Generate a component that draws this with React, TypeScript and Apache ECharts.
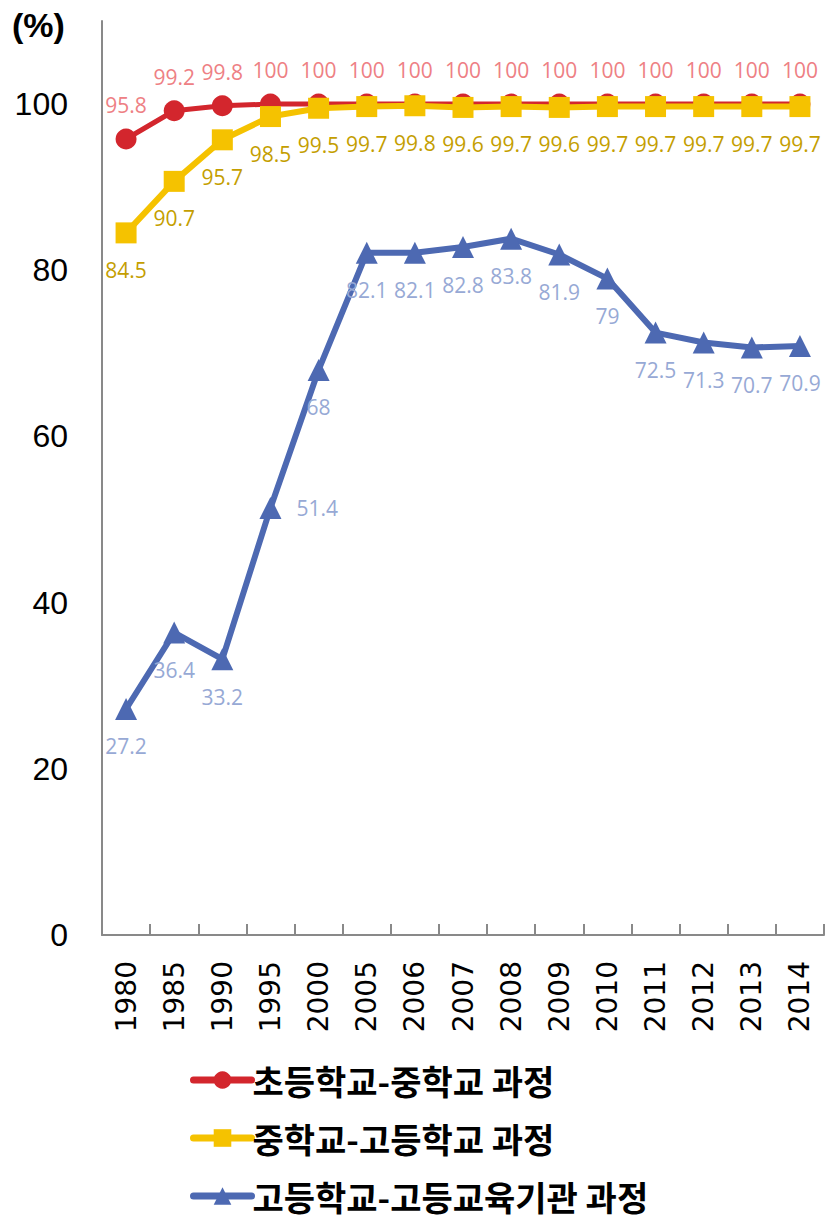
import React, { useEffect, useRef } from "react";
import * as echarts from "echarts";

const years = ["1980", "1985", "1990", "1995", "2000", "2005", "2006", "2007", "2008", "2009", "2010", "2011", "2012", "2013", "2014"];
const elemToMiddle = [95.8, 99.2, 99.8, 100, 100, 100, 100, 100, 100, 100, 100, 100, 100, 100, 100];
const middleToHigh = [84.5, 90.7, 95.7, 98.5, 99.5, 99.7, 99.8, 99.6, 99.7, 99.6, 99.7, 99.7, 99.7, 99.7, 99.7];
const highToTertiary = [27.2, 36.4, 33.2, 51.4, 68, 82.1, 82.1, 82.8, 83.8, 81.9, 79, 72.5, 71.3, 70.7, 70.9];
const seriesNames = ["초등학교-중학교 과정", "중학교-고등학교 과정", "고등학교-고등교육기관 과정"];
const yTicks = [0, 20, 40, 60, 80, 100];

export default function App() {
  const ref = useRef<HTMLDivElement>(null);
  useEffect(() => {
    document.body.style.margin = "0";
    const chart = echarts.init(ref.current!, null, { renderer: "svg" });
    const labelFont = { fontFamily: "Open Sans", fontSize: 21 };
    chart.setOption({
      animation: false,
      backgroundColor: "#ffffff",
      graphic: [
        {
          type: "text",
          left: 12,
          top: 8,
          style: { text: "(%)", font: "bold 34px 'Liberation Sans', Arial", fill: "#000" },
        },
      ],
      grid: { left: 102, right: 1, top: 21, bottom: 284, containLabel: false },
      legend: {
        orient: "vertical",
        left: 190,
        top: 1063,
        padding: 0,
        itemWidth: 58,
        itemHeight: 22,
        itemGap: 24,
        data: seriesNames,
        lineStyle: { width: 7, cap: "round" },
        textStyle: {
          fontFamily: "Noto Sans CJK KR",
          fontWeight: "bold",
          fontSize: 34,
          lineHeight: 34,
          color: "#000",
          padding: [0, 0, 0, -4],
        },
      },
      xAxis: {
        type: "category",
        data: years,
        boundaryGap: true,
        axisLine: { lineStyle: { color: "#898989", width: 2 } },
        axisTick: { show: true, inside: true, length: 11, lineStyle: { color: "#898989", width: 2 } },
        axisLabel: {
          rotate: 90,
          margin: 26,
          color: "#000",
          fontFamily: "DejaVu Sans",
          fontSize: 28,
        },
      },
      yAxis: {
        type: "value",
        min: 0,
        max: 110,
        interval: 20,
        splitLine: { show: false },
        axisLine: { show: true, lineStyle: { color: "#898989", width: 2 } },
        axisTick: { show: false },
        axisLabel: {
          margin: 34,
          color: "#000",
          fontFamily: "Liberation Sans",
          fontSize: 32,
          formatter: (v: number) => (yTicks.indexOf(v) >= 0 ? String(v) : ""),
        },
      },
      series: [
        {
          name: seriesNames[0],
          type: "line",
          data: elemToMiddle,
          symbol: "circle",
          symbolSize: 21,
          itemStyle: { color: "#D3262D" },
          lineStyle: { color: "#D3262D", width: 5 },
          label: { show: true, position: "top", distance: 13, color: "#EE8084", ...labelFont },
          z: 2,
        },
        {
          name: seriesNames[1],
          type: "line",
          data: middleToHigh,
          symbol: "rect",
          symbolSize: 21,
          itemStyle: { color: "#F5C200" },
          lineStyle: { color: "#F5C200", width: 6 },
          label: { show: true, position: "bottom", distance: 16, color: "#C49E00", ...labelFont },
          z: 3,
        },
        {
          name: seriesNames[2],
          type: "line",
          data: highToTertiary.map((v, i) =>
            i === 3 ? { value: v, label: { position: "right", distance: 15 } } : v
          ),
          symbol: "triangle",
          symbolSize: 22,
          itemStyle: { color: "#4D69B2" },
          lineStyle: { color: "#4D69B2", width: 6 },
          label: { show: true, position: "bottom", distance: 16, color: "#97A9D5", ...labelFont },
          z: 4,
        },
      ],
    });
    return () => chart.dispose();
  }, []);
  return <div ref={ref} style={{ width: 825, height: 1219 }} />;
}
